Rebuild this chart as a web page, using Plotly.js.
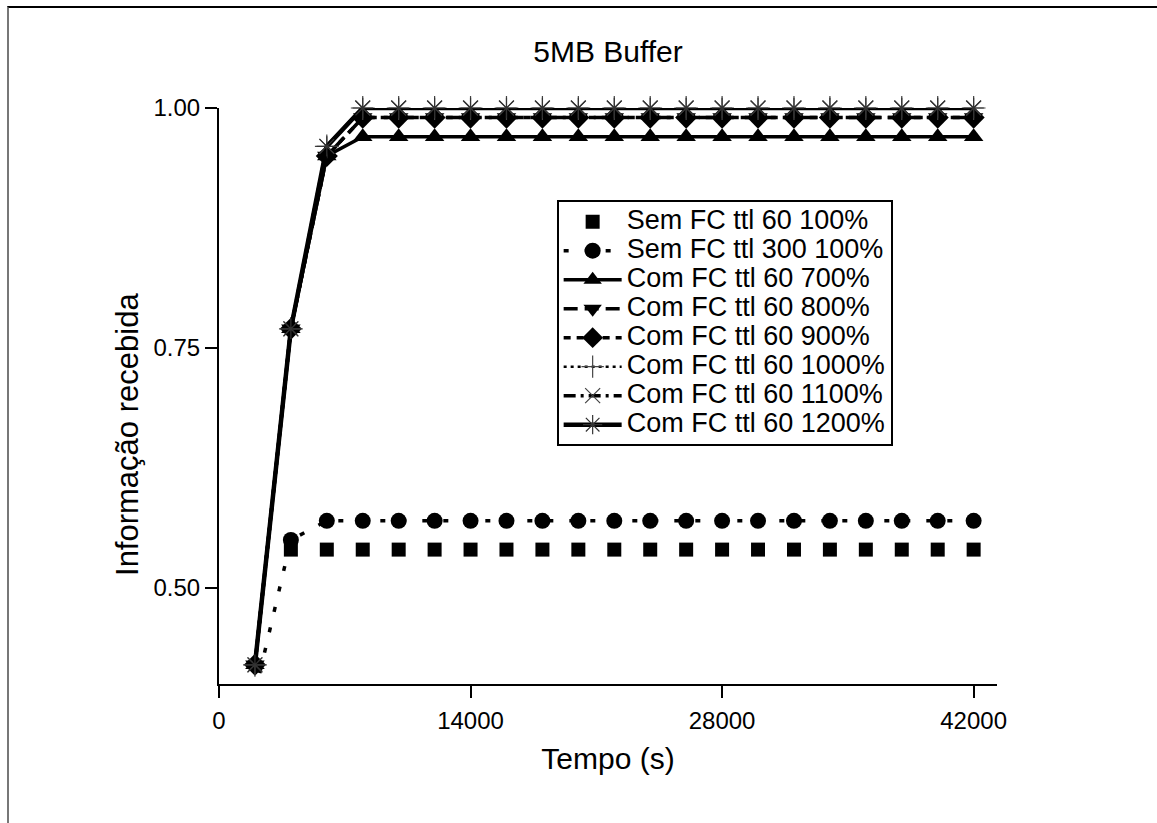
<!DOCTYPE html>
<html>
<head>
<meta charset="utf-8">
<script src="https://cdn.plot.ly/plotly-3.0.1.min.js"></script>
<style>
  html, body { margin: 0; padding: 0; background: #fff; }
  #chart { width: 1157px; height: 823px; }
  #frame { position: absolute; left: 7px; top: 6px; right: 0; bottom: 0;
           border-top: 2px solid #000; border-left: 2px solid #777; pointer-events: none; }
  .legendtext { font-size: 27px !important; }
</style>
</head>
<body>
<div id="chart"></div>
<div id="frame"></div>
<script>
const time = [2000, 4000, 6000, 8000, 10000, 12000, 14000, 16000, 18000, 20000, 22000,
              24000, 26000, 28000, 30000, 32000, 34000, 36000, 38000, 40000, 42000];

const semFC60_100  = [0.39, 0.54, 0.54, 0.54, 0.54, 0.54, 0.54, 0.54, 0.54, 0.54, 0.54,
                      0.54, 0.54, 0.54, 0.54, 0.54, 0.54, 0.54, 0.54, 0.54, 0.54];
const semFC300_100 = [0.39, 0.55, 0.57, 0.57, 0.57, 0.57, 0.57, 0.57, 0.57, 0.57, 0.57,
                      0.57, 0.57, 0.57, 0.57, 0.57, 0.57, 0.57, 0.57, 0.57, 0.57];
const comFC60_700  = [0.42, 0.77, 0.95, 0.97, 0.97, 0.97, 0.97, 0.97, 0.97, 0.97, 0.97,
                      0.97, 0.97, 0.97, 0.97, 0.97, 0.97, 0.97, 0.97, 0.97, 0.97];
const comFC60_800  = [0.42, 0.77, 0.95, 0.99, 0.99, 0.99, 0.99, 0.99, 0.99, 0.99, 0.99,
                      0.99, 0.99, 0.99, 0.99, 0.99, 0.99, 0.99, 0.99, 0.99, 0.99];
const comFC60_900  = [0.42, 0.77, 0.95, 0.99, 0.99, 0.99, 0.99, 0.99, 0.99, 0.99, 0.99,
                      0.99, 0.99, 0.99, 0.99, 0.99, 0.99, 0.99, 0.99, 0.99, 0.99];
const comFC60_1000 = [0.42, 0.77, 0.96, 1.00, 1.00, 1.00, 1.00, 1.00, 1.00, 1.00, 1.00,
                      1.00, 1.00, 1.00, 1.00, 1.00, 1.00, 1.00, 1.00, 1.00, 1.00];
const comFC60_1100 = [0.42, 0.77, 0.96, 1.00, 1.00, 1.00, 1.00, 1.00, 1.00, 1.00, 1.00,
                      1.00, 1.00, 1.00, 1.00, 1.00, 1.00, 1.00, 1.00, 1.00, 1.00];
const comFC60_1200 = [0.42, 0.77, 0.96, 1.00, 1.00, 1.00, 1.00, 1.00, 1.00, 1.00, 1.00,
                      1.00, 1.00, 1.00, 1.00, 1.00, 1.00, 1.00, 1.00, 1.00, 1.00];

const seriesNames = ['Sem FC ttl 60 100%', 'Sem FC ttl 300 100%', 'Com FC ttl 60 700%',
  'Com FC ttl 60 800%', 'Com FC ttl 60 900%', 'Com FC ttl 60 1000%',
  'Com FC ttl 60 1100%', 'Com FC ttl 60 1200%'];
const xTicks = [0, 14000, 28000, 42000];
const yTicks = [0.50, 0.75, 1.00];
const chartTitle = '5MB Buffer';
const xTitle = 'Tempo (s)';
const yTitle = 'Informação recebida';

const K = '#000';
const traces = [
  { y: semFC60_100, name: seriesNames[0], mode: 'markers', cliponaxis: true,
    marker: { symbol: 'square', size: 14, color: K } },
  { y: semFC300_100, name: seriesNames[1], mode: 'lines+markers', cliponaxis: true,
    line: { color: K, width: 3.5, dash: '5px,16px' },
    marker: { symbol: 'circle', size: 16, color: K } },
  { y: comFC60_700, name: seriesNames[2], mode: 'lines+markers', cliponaxis: false,
    line: { color: K, width: 3.5, dash: 'solid' },
    marker: { symbol: 'triangle-up', size: 17, color: K } },
  { y: comFC60_800, name: seriesNames[3], mode: 'lines+markers', cliponaxis: false,
    line: { color: K, width: 3.5, dash: '14px,7px' },
    marker: { symbol: 'triangle-down', size: 17, color: K } },
  { y: comFC60_900, name: seriesNames[4], mode: 'lines+markers', cliponaxis: false,
    line: { color: K, width: 3.5, dash: '7px,6px' },
    marker: { symbol: 'diamond', size: 17, color: K } },
  { y: comFC60_1000, name: seriesNames[5], mode: 'lines+markers', cliponaxis: false,
    line: { color: K, width: 2.5, dash: '3px,4px' },
    marker: { symbol: 'cross-thin', size: 17, color: K, line: { color: '#444', width: 1.2 } } },
  { y: comFC60_1100, name: seriesNames[6], mode: 'lines+markers', cliponaxis: false,
    line: { color: K, width: 3.5, dash: '12px,5px,3px,5px' },
    marker: { symbol: 'x-thin', size: 15, color: K, line: { color: '#444', width: 1.2 } } },
  { y: comFC60_1200, name: seriesNames[7], mode: 'lines+markers', cliponaxis: false,
    line: { color: K, width: 4.5, dash: 'solid' },
    marker: { symbol: 'asterisk', size: 17, color: K, line: { color: '#333', width: 1.2 } } }
].map(t => Object.assign({ x: time, type: 'scatter' }, t));

const FONT = 'Liberation Sans, Arial, sans-serif';
const layout = {
  width: 1157, height: 823,
  margin: { l: 219, r: 160, t: 108, b: 139 },
  paper_bgcolor: '#fff', plot_bgcolor: '#fff',
  font: { family: FONT, color: K, size: 20 },
  showlegend: true,
  title: { text: chartTitle, font: { family: FONT, size: 30, color: K },
           x: 0.5255, xanchor: 'center', y: 0.937, yanchor: 'middle' },
  xaxis: {
    range: [0, 43300], tickvals: xTicks, ticktext: xTicks.map(String),
    showgrid: false, zeroline: false, showline: true, linecolor: K, linewidth: 2,
    ticks: 'outside', ticklen: 12, tickwidth: 2, tickcolor: K,
    tickfont: { size: 24, family: FONT }, ticklabelstandoff: 2,
    title: { text: xTitle, font: { size: 30, family: FONT }, standoff: 15 }
  },
  yaxis: {
    range: [0.40, 1.00], tickvals: yTicks, ticktext: yTicks.map(v => v.toFixed(2)),
    showgrid: false, zeroline: false, showline: true, linecolor: K, linewidth: 2,
    ticks: 'outside', ticklen: 12, tickwidth: 2, tickcolor: K,
    tickfont: { size: 24, family: FONT }
  },
  annotations: [{
    text: yTitle, textangle: -90, showarrow: false,
    xref: 'paper', yref: 'paper', x: -0.1183, y: 0.434,
    xanchor: 'center', yanchor: 'middle',
    font: { size: 31, family: FONT, color: K }
  }],
  legend: {
    x: 0.434, y: 0.84, xanchor: 'left', yanchor: 'top',
    bgcolor: '#fff', bordercolor: K, borderwidth: 2,
    font: { size: 20, family: FONT, color: K },
    itemwidth: 58, tracegroupgap: 0
  }
};

Plotly.newPlot('chart', traces, layout, { displayModeBar: false, staticPlot: true });
</script>
</body>
</html>
